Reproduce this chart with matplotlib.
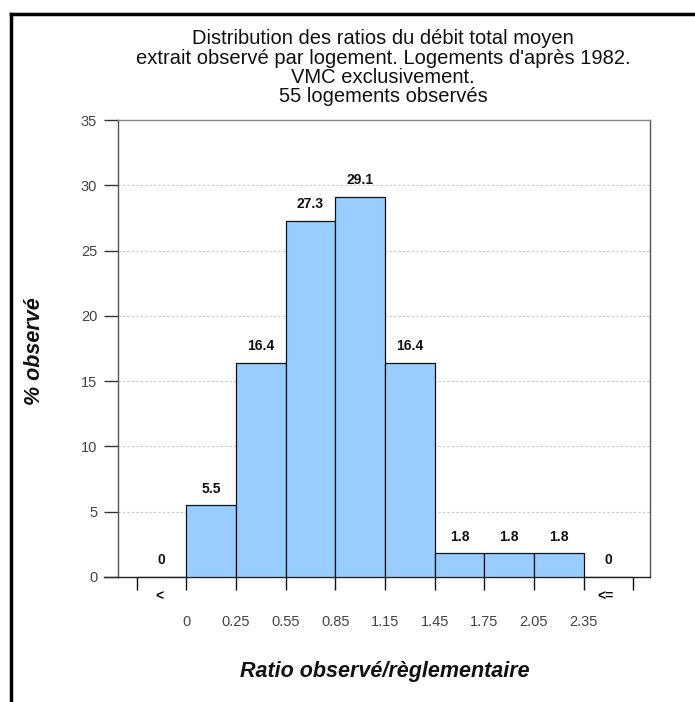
import matplotlib.pyplot as plt
from matplotlib.lines import Line2D

plt.rcParams['font.family'] = ['Liberation Sans', 'DejaVu Sans']

# data
pct = [0, 5.5, 16.4, 27.3, 29.1, 16.4, 1.8, 1.8, 1.8, 0]
bounds = ['0', '0.25', '0.55', '0.85', '1.15', '1.45', '1.75', '2.05', '2.35']
title_lines = ["Distribution des ratios du débit total moyen",
               "extrait observé par logement. Logements d'après 1982.",
               "VMC exclusivement.",
               "55 logements observés"]

W, H = 695, 702
fig = plt.figure(figsize=(W / 100, H / 100), dpi=100)
ax = fig.add_axes([118 / W, 1 - 577 / H, 532 / W, 457 / H])

xs = list(range(len(pct)))
ax.bar(xs, pct, width=1, align='edge', color='#99ccff', edgecolor='#111111', linewidth=0.9, zorder=3)

# value labels above bars
for x, v in zip(xs, pct):
    lab = '0' if v == 0 else f'{v:.1f}'
    ax.annotate(lab, (x + 0.5, v), xytext=(0, 12), textcoords='offset points',
                ha='center', va='center', fontsize=10, fontweight='bold', color='#111111')

ax.set_xlim(-0.38, 10.34)
ax.set_ylim(0, 35)

# grid
for y in range(5, 35, 5):
    ax.axhline(y, color='#c8c8c8', linestyle=(0, (2, 2)), linewidth=0.8, zorder=1)

# spines
ax.spines['left'].set_color('#555555')
ax.spines['right'].set_color('#555555')
ax.spines['top'].set_color('#888888')
ax.spines['top'].set_linestyle((0, (2, 1)))
ax.spines['bottom'].set_color('#222222')
for s in ax.spines.values():
    s.set_linewidth(1.0)

ax.set_yticks(range(0, 36, 5))
ax.tick_params(axis='y', length=10, width=1, color='#333333', labelsize=10.5,
               labelcolor='#444444', pad=5)
ax.set_xticks(range(11))
ax.set_xticklabels([''] * 11)
ax.tick_params(axis='x', length=9.4, width=1, color='#111111')

# baseline extends left to y tick
ax.add_line(Line2D([-0.38 - 14 / 49.6, -0.38], [0, 0], color='#333333', lw=1,
                   clip_on=False))

tr = ax.get_xaxis_transform()
ax.text(0.45, -0.044, '<', transform=tr, ha='center', va='center', fontsize=10,
        fontweight='bold', color='#111111')
ax.text(9.45, -0.044, '<=', transform=tr, ha='center', va='center', fontsize=10,
        fontweight='bold', color='#111111')
for i, b in enumerate(bounds):
    ax.text(i + 1, -0.098, b, transform=tr, ha='center', va='center', fontsize=10.5,
            color='#444444')

# title lines
for yb, line in zip([44, 63.5, 83, 102.5], title_lines):
    fig.text(383 / W, 1 - yb / H, line, ha='center', va='baseline', fontsize=14.5,
             color='#111111')

fig.text(385 / W, 1 - 672 / H, 'Ratio observé/règlementaire', ha='center', va='center',
         fontsize=15.5, fontweight='bold', fontstyle='italic', color='#111111')
fig.text(34 / W, 1 - 351 / H, '% observé', ha='center', va='center', rotation=90,
         fontsize=15.5, fontweight='bold', fontstyle='italic', color='#111111')

# outer frame (top and left edges only visible)
fig.add_artist(Line2D([11 / W, 11 / W], [0, 1 - 14 / H], color='black', lw=2.5,
                      transform=fig.transFigure))
fig.add_artist(Line2D([11 / W, 1], [1 - 14 / H, 1 - 14 / H], color='black', lw=2.5,
                      transform=fig.transFigure))

fig.savefig('out.png', dpi=100)
